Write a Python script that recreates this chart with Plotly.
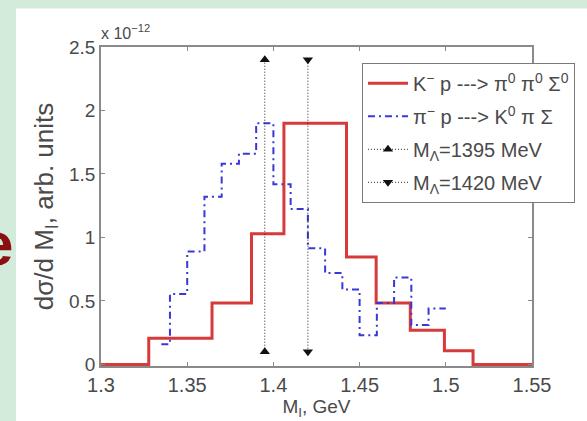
import plotly.graph_objects as go

# Red histogram (K- p -> pi0 pi0 Sigma0): bin edges and heights (x1e-12)
red_edges = [1.300, 1.3277, 1.3644, 1.3873, 1.4061, 1.4424, 1.4596, 1.4794, 1.4992, 1.5158, 1.550]
red_vals = [0.0, 0.207, 0.485, 1.03, 1.90, 0.846, 0.485, 0.27, 0.108, 0.0]

# Blue histogram (pi- p -> K0 pi Sigma)
blue_edges = [1.335, 1.34, 1.35, 1.36, 1.37, 1.38, 1.39, 1.40, 1.41, 1.42,
              1.43, 1.44, 1.45, 1.46, 1.47, 1.48, 1.49, 1.50]
blue_vals = [0.16, 0.555, 0.89, 1.32, 1.58, 1.66, 1.90, 1.42, 1.225, 0.915,
             0.72, 0.59, 0.23, 0.485, 0.685, 0.31, 0.44]

# Marker lines for Lambda(1405) masses
m1395_x = [1.395, 1.395]
m1420_x = [1.420, 1.420]
mark_y = [2.4, 0.1]

x_ticks = [1.3, 1.35, 1.4, 1.45, 1.5, 1.55]
x_labels = ["1.3", "1.35", "1.4", "1.45", "1.5", "1.55"]
y_ticks = [0, 0.5, 1, 1.5, 2, 2.5]
y_labels = ["0", "0.5", "1", "1.5", "2", "2.5"]

TXT = "#4a4a4a"
AX = "#8a8a8a"
FONT = "Liberation Sans, Arial, Helvetica, sans-serif"

fig = go.Figure()

fig.add_trace(go.Scatter(
    x=red_edges, y=red_vals + [red_vals[-1]], mode="lines", line_shape="hv",
    line=dict(color="#d63a3a", width=3), legendgroup="a",
    name="K<sup>\u2212</sup> p ---> \u03c0<sup>0</sup> \u03c0<sup>0</sup> \u03a3<sup>0</sup>"))

fig.add_trace(go.Scatter(
    x=blue_edges, y=blue_vals + [blue_vals[-1]], mode="lines", line_shape="hv",
    line=dict(color="#3838d8", width=2, dash="7px,4px,2px,4px"), legendgroup="b",
    name="\u03c0<sup>\u2212</sup> p ---> K<sup>0</sup> \u03c0 \u03a3"))

fig.add_trace(go.Scatter(
    x=m1395_x, y=mark_y, mode="lines+markers",
    line=dict(color="#222222", width=1, dash="1px,2px"),
    marker=dict(symbol="triangle-up", size=9, color="#111111"),
    cliponaxis=False, legendgroup="c",
    name="M<sub>\u039b</sub>=1395 MeV"))

fig.add_trace(go.Scatter(
    x=m1420_x, y=mark_y, mode="lines+markers",
    line=dict(color="#222222", width=1, dash="1px,2px"),
    marker=dict(symbol="triangle-down", size=9, color="#111111"),
    cliponaxis=False, legendgroup="d",
    name="M<sub>\u039b</sub>=1420 MeV"))

L, R, T, B = 101, 50, 47, 51
W, H = 587, 421
pw, ph = W - L - R, H - T - B


def px_x(p):
    return (p - L) / pw


def px_y(p):
    return (H - B - p) / ph


fig.update_layout(
    width=W, height=H,
    margin=dict(l=L, r=R, t=T, b=B, pad=0),
    paper_bgcolor="#d3ebdb",
    plot_bgcolor="white",
    font=dict(family=FONT, size=18, color=TXT),
    showlegend=True,
    legend=dict(
        x=px_x(365), y=px_y(63), xanchor="left", yanchor="top",
        bgcolor="white", bordercolor="#7a7a7a", borderwidth=1,
        font=dict(size=20, color=TXT), itemwidth=40,
        tracegroupgap=4,
    ),
    xaxis=dict(
        range=[1.3, 1.55], tickvals=x_ticks, ticktext=x_labels,
        ticks="inside", ticklen=4, tickcolor=AX, showline=True, linecolor=AX,
        linewidth=1.5, mirror="ticks", showgrid=False, zeroline=False,
        tickfont=dict(size=20, color=TXT),
        title=dict(text="M<sub>I</sub>, GeV", font=dict(size=19, color=TXT), standoff=0),
    ),
    yaxis=dict(
        range=[-0.012, 2.5], tickvals=y_ticks, ticktext=y_labels,
        ticks="inside", ticklen=4, tickcolor=AX, showline=True, linecolor=AX,
        linewidth=1.5, mirror="ticks", showgrid=False, zeroline=False,
        tickfont=dict(size=19, color=TXT),
        title=dict(text="d\u03c3/d M<sub>I</sub>, arb. units", font=dict(size=26, color=TXT), standoff=8),
    ),
    shapes=[dict(
        type="rect", xref="paper", yref="paper", layer="below",
        x0=px_x(15), x1=px_x(600), y0=px_y(430), y1=px_y(8),
        fillcolor="white", line=dict(width=0),
    )],
    annotations=[
        dict(text="x 10<sup>\u221212</sup>", xref="paper", yref="paper",
             x=px_x(99), y=px_y(44), xanchor="left", yanchor="bottom",
             showarrow=False, font=dict(size=16, color=TXT)),
        dict(text="<b>e</b>", xref="paper", yref="paper",
             x=px_x(14), y=px_y(246), xanchor="right", yanchor="middle",
             showarrow=False, font=dict(size=62, color="#8a1010", family=FONT)),
    ],
)

fig.write_html("out.html")
